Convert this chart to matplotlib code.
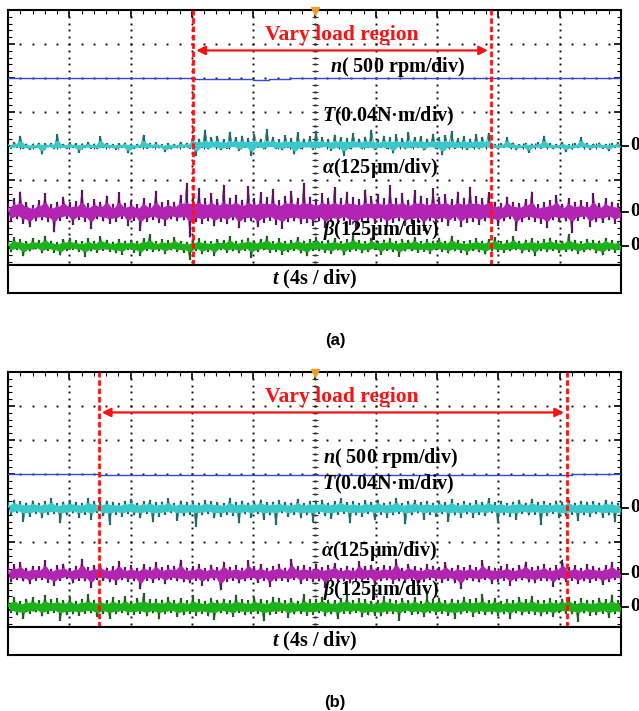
import numpy as np
import matplotlib
matplotlib.use("Agg")
import matplotlib.pyplot as plt

plt.rcParams['mathtext.fontset'] = 'custom'
plt.rcParams['mathtext.it'] = 'Liberation Serif:italic:bold'
plt.rcParams['mathtext.rm'] = 'Liberation Serif:bold'
plt.rcParams['mathtext.bf'] = 'Liberation Serif:bold'

# ---------------- data (time in div, amplitudes in div / 0.01 div) ----------------
labels = [r"$n$( 500 rpm/div)", r"$T$(0.04N·m/div)", r"$\alpha$(125μm/div)", r"$\beta$(125μm/div)"]
time_label = r"$t$ (4s / div)"
region_label = "Vary load region"

# panel (a)
a_region = [3.02, 7.88]
a_base = {"n": 6.0, "T": 4.0, "A": 2.06, "B": 1.06}
a_n_t = [0, 3.05, 3.05, 4.0, 4.0, 4.25, 4.25, 4.6, 4.6, 10]
a_n_v = [6.0, 6.0, 5.97, 5.97, 5.95, 5.95, 5.97, 5.97, 6.0, 6.0]
a_T = [6,-8,12,-5,30,-9,7,-12,5,-6, 10,-25,8,-4,9,-10,35,-7,6,-9, 11,-5,8,-20,7,-6,12,-8,5,-10,
       28,-6,9,-7,6,-11,8,-5,10,-22, 7,-9,6,-5,33,-8,9,-6,11,-7, 5,-18,8,-10,6,-7,12,-5,9,-8,
       28,-30,22,-6,48,-10,25,-4,30,-12, 20,-8,42,-2,26,-15,30,-5,24,-28, 35,-6,22,-10,50,-3,27,-9,20,-12,
       31,-5,24,-25,40,-8,22,-4,28,-11, 45,-7,25,-3,21,-14,33,-6,26,-30, 24,-9,38,-4,22,-10,27,-6,47,-12,
       20,-5,30,-8,25,-22,34,-3,23,-10, 41,-7,26,-5,29,-13,22,-4,36,-9, 25,-27,31,-6,44,-8,23,-5,28,-11,
       22,-6,35,-10,27,-4,39,-9,
       6,-9,8,-5,25,-7,10,-12,5,-6, 9,-20,7,-5,11,-8,30,-6,8,-10, 6,-7,12,-18,5,-9,8,-6,26,-5,
       9,-11,7,-6,10,-8,6,-15,8,-5,11,-7]
a_A = [25,-30,40,-22,60,-35,28,-45,20,-28, 35,-25,55,-30,22,-60,30,-26,45,-20, 28,-38,32,-24,65,-30,25,-50,38,-22,
       30,-28,48,-35,24,-30,58,-20,27,-42, 33,-26,22,-55,40,-30,26,-24,62,-33, 28,-40,35,-22,30,-28,50,-25,85,-75,
       45,-30,70,-35,40,-28,55,-42,38,-30, 80,-36,42,-25,50,-48,36,-30,75,-28, 40,-45,58,-32,44,-26,68,-38,35,-50,
       48,-30,62,-28,40,-36,85,-33,45,-40, 38,-28,55,-46,42,-30,72,-34,40,-26, 60,-38,44,-52,38,-30,66,-28,46,-35,
       52,-30,40,-44,78,-32,42,-28,56,-40, 36,-34,64,-30,48,-55,40,-28,70,-36, 44,-30,52,-40,38,-26,60,-45,42,-32,
       74,-30,46,-38,40,-28,58,-35,
       30,-40,25,-28,45,-22,30,-55,26,-30, 38,-24,60,-30,22,-35,28,-48,35,-25, 50,-30,24,-28,40,-62,30,-26,34,-22,
       28,-45,55,-30,26,-32,40,-24,30,-35,25,-28]
a_B = [15,-18,25,-12,20,-30,14,-16,22,-10, 18,-22,30,-14,16,-20,12,-28,20,-15, 24,-12,17,-18,14,-33,22,-16,15,-20,
       28,-14,18,-17,13,-22,20,-26,16,-12, 19,-20,15,-30,22,-14,35,-18,14,-16, 20,-24,17,-13,26,-18,15,-20,12,-40,
       18,-15,22,-25,16,-18,14,-30,20,-12, 17,-20,28,-16,15,-22,19,-14,24,-34, 16,-18,21,-13,30,-20,14,-17,22,-26,
       15,-19,18,-14,25,-22,16,-30,20,-15, 27,-16,15,-20,18,-24,22,-13,14,-28, 20,-17,32,-15,17,-21,14,-18,24,-12,
       16,-26,19,-14,22,-18,15,-32,20,-16, 18,-15,26,-20,14,-17,21,-24,16,-13, 24,-18,15,-22,30,-16,18,-20,14,-27,
       17,-14,22,-19,16,-25,20,-15,25,-18, 14,-20,18,-16,28,-13,15,-22,19,-17, 22,-30,16,-14,20,-18,24,-15,17,-21,
       15,-17,35,-16,18,-24,14,-19,21,-13, 18,-22,16,-28,24,-15,17,-20,15,-18]

# panel (b)
b_region = [1.48, 9.12]
b_base = {"n": 5.0, "T": 4.0, "A": 2.06, "B": 1.09}
b_n_t = [0, 1.5, 1.5, 2.2, 2.2, 4.1, 4.1, 4.9, 4.9, 7.3, 7.3, 9.2, 9.2, 10]
b_n_v = [5.0, 5.0, 4.98, 4.98, 4.98, 4.98, 4.96, 4.96, 4.98, 4.98, 4.97, 4.97, 5.0, 5.0]
b_T = [18,-22,25,-15,20,-40,16,-25,22,-18, 15,-30,20,-20,28,-18,14,-45,19,-22, 24,-16,18,-28,16,-20,30,-35,20,-15,
       17,-24,22,-50,18,-20,15,-26,21,-18, 26,-22,16,-30,20,-18,24,-42,17,-25, 19,-20,28,-16,15,-38,22,-24,18,-20,
       21,-55,16,-22,24,-18,20,-30,17,-26, 15,-20,30,-24,18,-45,22,-19,16,-28, 20,-18,25,-35,17,-22,19,-50,23,-16,
       18,-26,16,-20,27,-30,15,-22,21,-40, 19,-18,24,-24,16,-32,20,-20,28,-17, 17,-45,21,-22,15,-26,23,-18,18,-36,
       25,-20,16,-28,19,-22,30,-18,15,-48, 20,-22,24,-16,17,-34,21,-20,16,-26, 22,-18,18,-40,26,-22,15,-28,20,-19,
       16,-30,23,-20,18,-24,28,-16,17,-44, 21,-22,15,-26,19,-35,24,-18,16,-22, 27,-20,18,-50,20,-24,15,-18,22,-30,
       17,-24,25,-20,16,-38,21,-22,18,-26, 20,-18,16,-28,24,-22,19,-42,15,-20]
b_A = [20,-25,28,-18,35,-22,18,-30,24,-20, 22,-18,40,-26,16,-35,25,-20,30,-15, 18,-28,24,-20,45,-22,20,-40,26,-18,
       30,-20,19,-25,22,-32,38,-18,20,-24, 25,-22,18,-45,28,-20,21,-26,35,-19, 20,-30,26,-18,24,-22,42,-25,19,-28,
       23,-20,30,-35,18,-22,27,-19,20,-48, 36,-24,21,-20,25,-28,19,-22,40,-18, 22,-26,28,-20,18,-38,24,-22,30,-20,
       19,-24,44,-18,22,-30,26,-20,21,-25, 28,-22,20,-40,25,-19,32,-24,18,-22, 24,-28,19,-20,38,-25,22,-18,27,-34,
       20,-22,26,-19,23,-30,45,-22,18,-26, 30,-20,22,-36,19,-24,28,-18,24,-22, 21,-26,34,-20,18,-28,25,-44,20,-19,
       27,-22,20,-25,40,-18,23,-30,19,-24, 22,-20,28,-34,18,-22,26,-19,36,-25, 20,-28,24,-20,30,-22,19,-38,25,-18,
       42,-24,21,-20,26,-30,18,-22,28,-26, 23,-20,19,-32,25,-24,35,-18,20,-22]
b_B = [22,-18,30,-25,18,-35,24,-20,28,-16, 19,-28,35,-20,22,-18,26,-40,20,-24, 30,-22,18,-26,24,-20,38,-19,21,-30,
       25,-20,19,-34,28,-22,20,-18,32,-25, 18,-24,26,-20,40,-28,22,-19,24,-36, 21,-22,29,-18,20,-30,25,-24,19,-20,
       34,-26,22,-20,18,-28,27,-38,21,-19, 24,-22,20,-30,36,-18,23,-25,19,-22, 28,-20,22,-42,19,-24,30,-20,25,-18,
       20,-32,26,-22,18,-20,38,-26,22,-24, 24,-19,30,-28,21,-22,19,-35,27,-20, 36,-22,20,-18,25,-30,22,-24,18,-26,
       21,-28,32,-20,24,-22,19,-40,26,-18, 20,-24,28,-22,18,-30,35,-19,22,-25, 27,-20,19,-26,24,-34,21,-22,30,-18,
       22,-30,25,-20,38,-24,19,-22,26,-28, 18,-22,24,-36,20,-19,29,-25,22,-20, 33,-24,21,-28,19,-22,26,-30,20,-18,
       24,-20,30,-22,18,-44,25,-19,21,-26, 19,-25,27,-20,22,-32,36,-22,20,-24]

# label positions (div units)
a_label_pos = [(5.25, 6.32), (5.12, 4.88), (5.12, 3.35), (5.14, 1.53)]
b_label_pos = [(5.14, 5.47), (5.12, 4.70), (5.10, 2.74), (5.14, 1.59)]

# ---------------- styling ----------------
W, H = 639, 711
fig = plt.figure(figsize=(W / 100, H / 100), dpi=100)

COL = {"T": ("#226a6a", "#38caca", 0.14),
       "A": ("#5e1462", "#b424b4", 0.26),
       "B": ("#1f5e1f", "#1ab41a", 0.16)}
SERIF = "Liberation Serif"
LAB_FS = 14.5


def trace(ax, base, vals, key):
    dark, bright, band = COL[key]
    v = np.array(vals, dtype=float) / 100.0
    t = np.linspace(0, 10, len(v))
    # spikes: each sample as a vertical stroke
    ax.vlines(t, base, base + v, color=dark, lw=1.6, zorder=3)
    ax.plot(t, base + v, color=dark, lw=0.5, zorder=3)
    # bright core: scaled-down copy of the samples
    core = np.clip(0.55 * v, -band, band)
    up = np.maximum(core[:-1], core[1:])
    lo = np.minimum(core[:-1], core[1:])
    tm = 0.5 * (t[:-1] + t[1:])
    ax.fill_between(tm, base + lo, base + up, color=bright, lw=0, zorder=4)
    ax.vlines(t, base, base + core, color=bright, lw=1.2, zorder=4)


def panel(top_px, region, base, n_t, n_v, T, A, B, label_pos, cap):
    left = 8 / W
    width = 613 / W
    ax = fig.add_axes([left, 1 - (top_px + 255) / H, width, 255 / H])
    box = fig.add_axes([left, 1 - (top_px + 283) / H, width, 28 / H])
    ax.set_xlim(0, 10)
    ax.set_ylim(0.5, 8)
    for s in ax.spines.values():
        s.set_linewidth(1.5)
    ax.set_xticks(range(0, 11))
    ax.set_yticks(range(1, 9))
    ax.set_xticks(np.arange(0, 10.01, 0.2), minor=True)
    ax.set_yticks(np.arange(0.6, 8.01, 0.2), minor=True)
    ax.tick_params(which='both', direction='in', labelbottom=False, labelleft=False,
                   top=True, right=True, bottom=False, left=True)
    ax.tick_params(which='major', length=5, width=1.2)
    ax.tick_params(which='minor', length=3, width=0.8)
    # dotted grid
    for gy in range(1, 8):
        xs = np.arange(0.2, 10, 0.2)
        ax.plot(xs, np.full_like(xs, gy), ls='none', marker='s', ms=1.4, mew=0,
                color='#111111', zorder=1)
    for gx in range(1, 10):
        ys = np.arange(0.6, 8, 0.2)
        ax.plot(np.full_like(ys, gx), ys, ls='none', marker='s', ms=1.4, mew=0,
                color='#111111', zorder=1)
    # centre cross tick marks
    ys = np.arange(0.6, 8, 0.2)
    ax.plot(np.full_like(ys, 5), ys, ls='none', marker='_', ms=4, mew=0.8, color='#333333', zorder=1)
    xs = np.arange(0.2, 10, 0.2)
    ax.plot(xs, np.full_like(xs, 4), ls='none', marker='|', ms=4, mew=0.8, color='#333333', zorder=1)
    # trigger marker
    ax.plot([5], [7.97], marker='v', ms=6, color='#f0a020', clip_on=False, zorder=6)

    # traces
    ax.plot(n_t, n_v, color='#3248e6', lw=1.0, zorder=3)
    trace(ax, base["T"], T, "T")
    trace(ax, base["A"], A, "A")
    trace(ax, base["B"], B, "B")

    # region markers
    for rx in region:
        ax.axvline(rx, color='#ff1010', lw=2.0, ls=(0, (2, 1)), zorder=7)
    ay = 7.26 - 0.45
    ax.annotate('', xy=(region[0] + 0.05, ay), xytext=(region[1] - 0.05, ay),
                arrowprops=dict(arrowstyle='<|-|>', color='#ff1010', lw=1.6, mutation_scale=13,
                                shrinkA=0, shrinkB=0), zorder=7)
    ax.text(5.45, 7.26, region_label, color='#ff1010', fontsize=15.5, fontweight='bold',
            family=SERIF, ha='center', va='center', zorder=8)

    for lab, (lx, ly) in zip(labels, label_pos):
        ax.text(lx, ly, lab, fontsize=LAB_FS, fontweight='bold', family=SERIF,
                ha='left', va='center', zorder=8)

    # zero markers on the right
    for key in ("T", "A", "B"):
        ax.plot([10, 10.12], [base[key], base[key]], color='black', lw=1.3, clip_on=False)
        ax.text(10.15, base[key], "0", fontsize=14, fontweight='bold', family=SERIF,
                ha='left', va='center', clip_on=False)

    box.set_xlim(0, 1)
    box.set_ylim(0, 1)
    box.set_xticks([])
    box.set_yticks([])
    for s in box.spines.values():
        s.set_linewidth(1.5)
    box.text(0.5, 0.5, time_label, fontsize=LAB_FS, fontweight='bold', family=SERIF,
             ha='center', va='center')

    fig.text(335 / W, 1 - (top_px + 330) / H, cap, fontsize=12, fontweight='bold',
             family='Liberation Sans', ha='center', va='center')


panel(10, a_region, a_base, a_n_t, a_n_v, a_T, a_A, a_B, a_label_pos, "(a)")
panel(372, b_region, b_base, b_n_t, b_n_v, b_T, b_A, b_B, b_label_pos, "(b)")

fig.savefig("out.png", dpi=100)
